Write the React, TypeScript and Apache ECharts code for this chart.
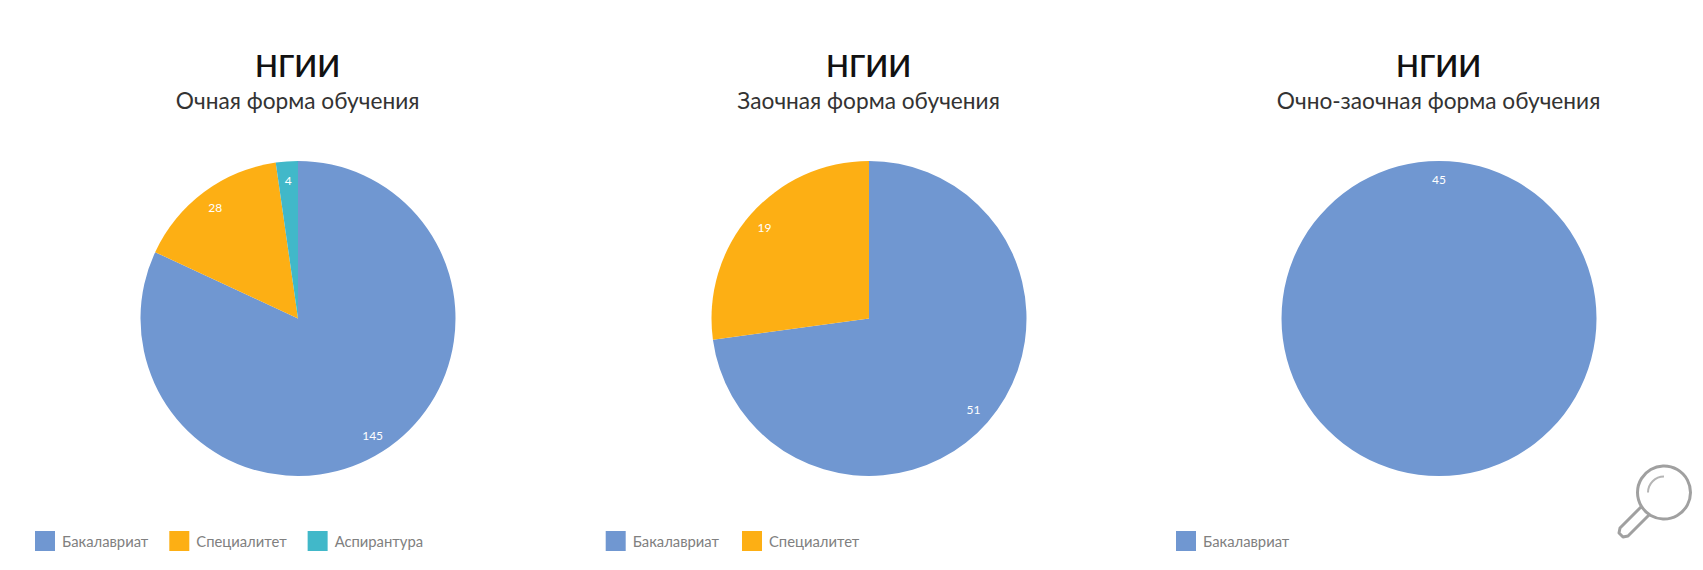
import React, { useEffect, useRef } from "react";
import * as echarts from "echarts";

const chartTitle = "НГИИ";
const subtitles = ["Очная форма обучения", "Заочная форма обучения", "Очно-заочная форма обучения"];
const levels = ["Бакалавриат", "Специалитет", "Аспирантура"];
const fullTimeValues = [145, 28, 4];
const extramuralValues = [51, 19];
const mixedValues = [45];
const palette = ["#7097d1", "#fdaf14", "#41b8c9"];

const FONT = "Lato, 'Noto Sans', sans-serif";
const CENTER_Y = 318.5;
const RADIUS = 157.5;
const centersX = [298, 869, 1439];
const legendLefts = [30, 600.7, 1171];
const legendGaps = [21, 23, 23];
const startAngles = [90, 90, -90];
const valueSets = [fullTimeValues, extramuralValues, mixedValues];

function toData(values: number[]) {
  return values.map((value, i) => ({
    name: levels[i],
    value,
    itemStyle: { color: palette[i] },
  }));
}

function buildOption() {
  const title = subtitles.map((sub, i) => ({
    text: chartTitle,
    subtext: sub,
    left: centersX[i] - 5.4,
    top: 43,
    textAlign: "center" as const,
    itemGap: 5,
    textStyle: { fontFamily: FONT, fontSize: 30, fontWeight: 600, color: "#111111", lineHeight: 34 },
    subtextStyle: { fontFamily: FONT, fontSize: 22.7, color: "#333333", lineHeight: 26 },
  }));

  const legend = valueSets.map((values, i) => ({
    left: legendLefts[i],
    top: 526,
    orient: "horizontal" as const,
    itemWidth: 20,
    itemHeight: 20,
    itemGap: legendGaps[i],
    selectedMode: false,
    icon: "rect",
    data: levels.slice(0, values.length),
    textStyle: { fontFamily: FONT, fontSize: 14.8, color: "#808080", padding: [0, 0, 0, 2] },
  }));

  const pies = valueSets.map((values, i) => ({
    type: "pie" as const,
    center: [centersX[i], CENTER_Y],
    radius: [0, RADIUS],
    startAngle: startAngles[i],
    clockwise: true,
    silent: true,
    label: { show: false },
    labelLine: { show: false },
    data: toData(values),
  }));

  // Transparent ring that only places the value labels near the rim, as in the reference.
  const labelRings = valueSets.map((values, i) => ({
    type: "pie" as const,
    center: [centersX[i], CENTER_Y],
    radius: [114, RADIUS],
    startAngle: startAngles[i],
    clockwise: true,
    silent: true,
    itemStyle: { color: "transparent" },
    label: {
      show: true,
      position: "inside" as const,
      formatter: "{c}",
      fontFamily: FONT,
      fontSize: 12,
      color: "#ffffff",
    },
    labelLine: { show: false },
    data: values.map((value, k) => ({ name: levels[k], value, itemStyle: { color: "transparent" } })),
  }));

  const stroke = { stroke: "#a0a0a0", lineWidth: 3, fill: "transparent" };
  const graphic = [
    {
      type: "group",
      silent: true,
      children: [
        { type: "circle", shape: { cx: 1664, cy: 492.5, r: 26.5 }, style: { ...stroke, fill: "#ffffff" } },
        { type: "arc", shape: { cx: 1664, cy: 492.5, r: 16, startAngle: Math.PI, endAngle: Math.PI * 1.5 }, style: { ...stroke, lineWidth: 2, stroke: "#b5b5b5" } },
        {
          type: "polyline",
          shape: { points: [[1641, 507], [1620, 528], [1619, 533], [1623, 537], [1628, 536], [1649, 515]] },
          style: { ...stroke, lineJoin: "round" },
        },
      ],
    },
  ];

  return { animation: false, backgroundColor: "#ffffff", title, legend, series: [...pies, ...labelRings], graphic };
}

export default function App() {
  const ref = useRef<HTMLDivElement>(null);
  useEffect(() => {
    const prev = document.body.style.margin;
    document.body.style.margin = "0";
    const chart = echarts.init(ref.current!, undefined, { renderer: "svg" });
    chart.setOption(buildOption());
    return () => {
      chart.dispose();
      document.body.style.margin = prev;
    };
  }, []);
  return <div ref={ref} style={{ width: 1703, height: 570 }} />;
}
